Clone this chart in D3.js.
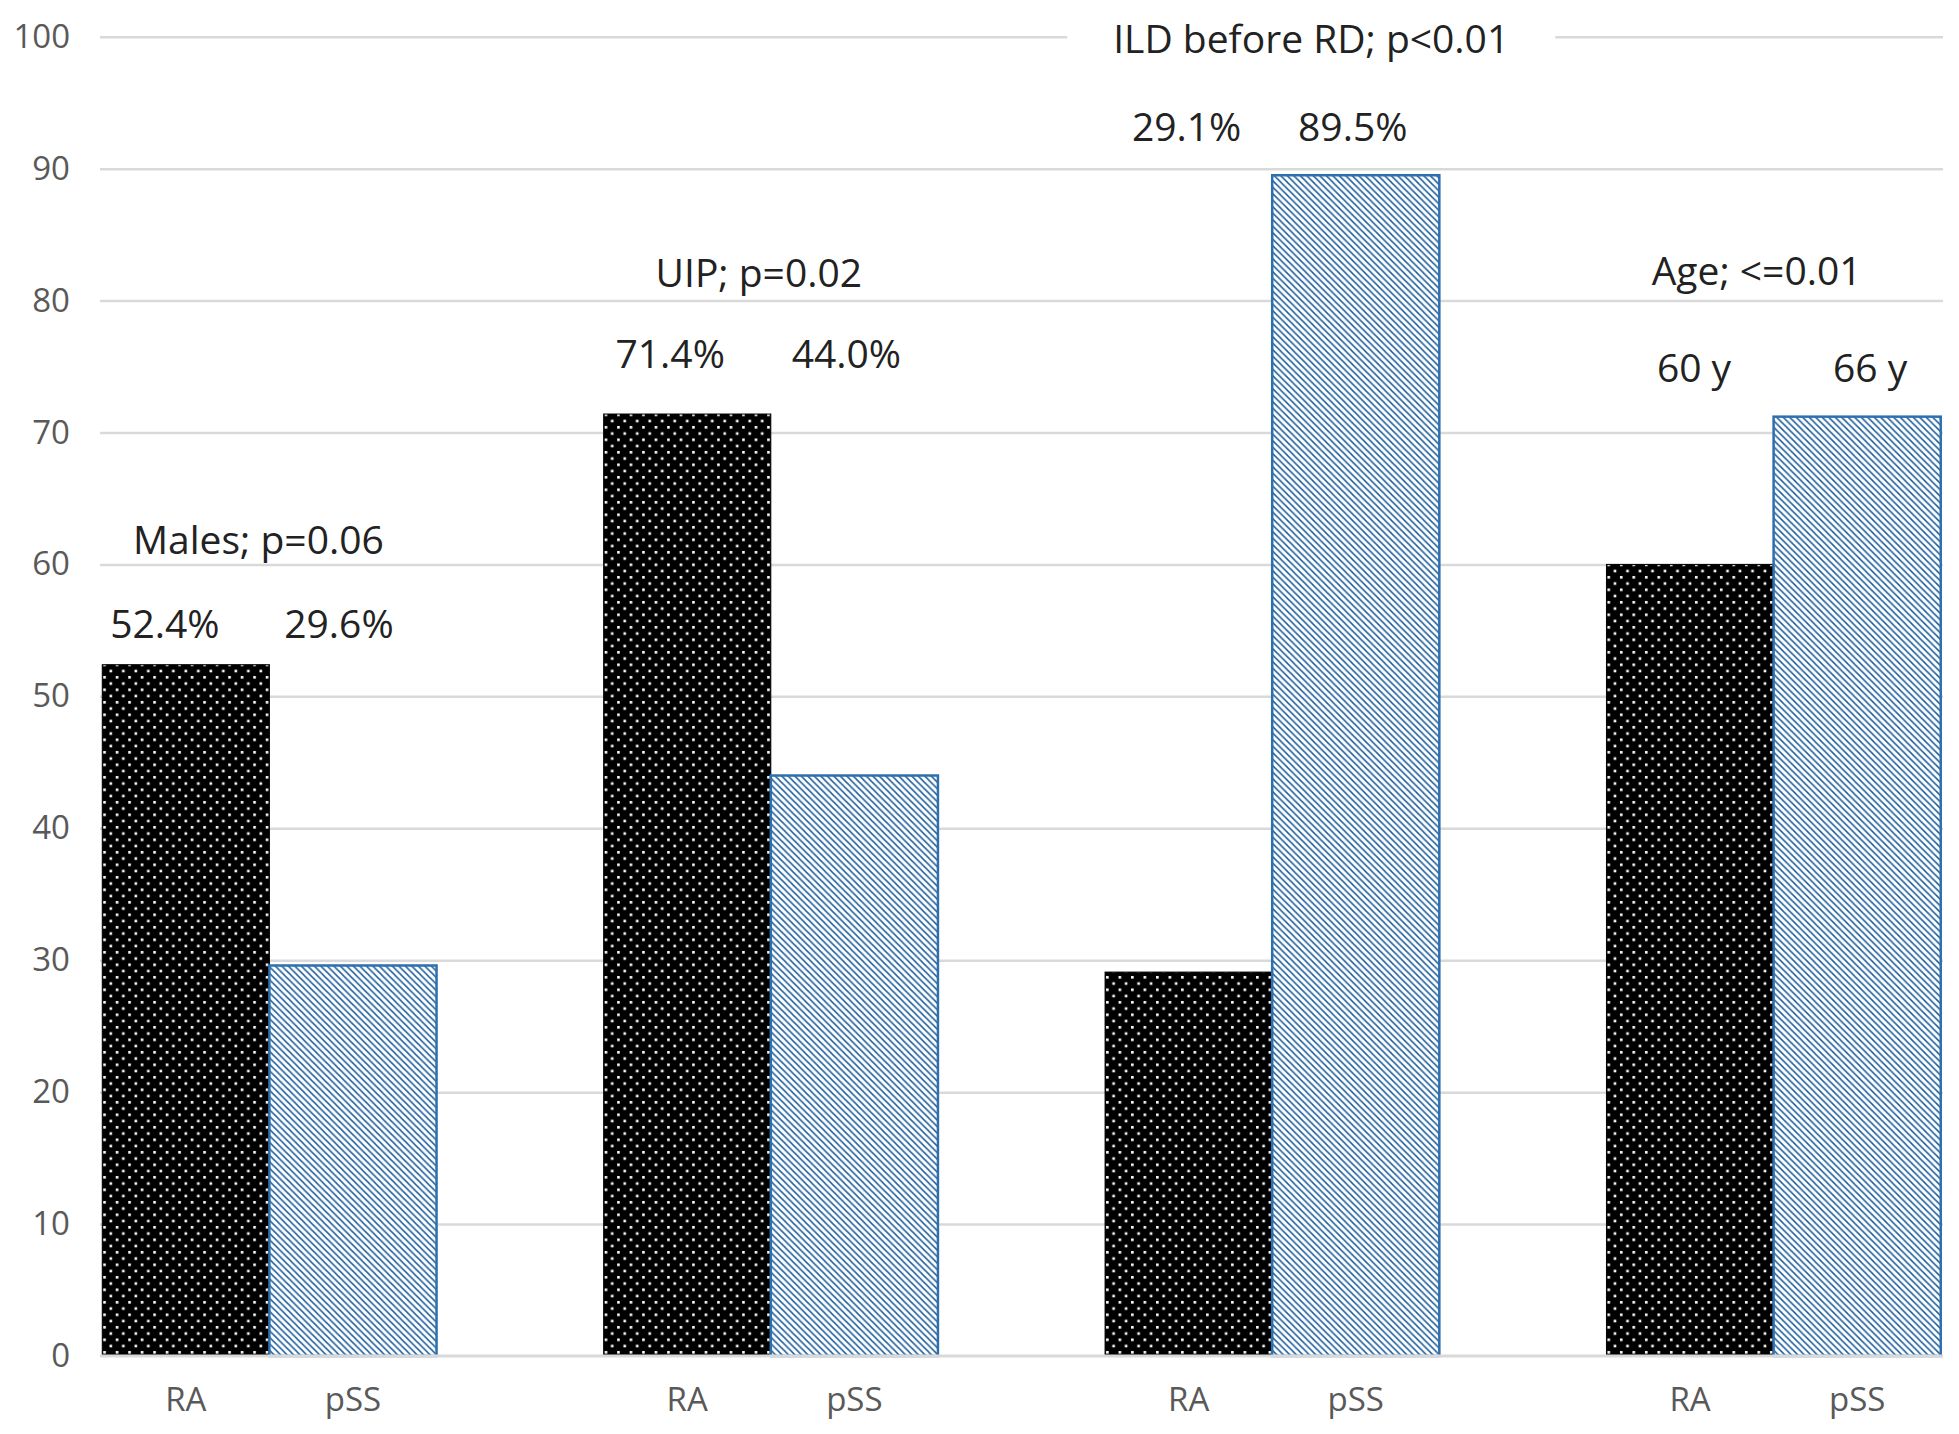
<!DOCTYPE html>
<html>
<head>
<meta charset="utf-8">
<script src="https://cdn.jsdelivr.net/npm/d3@7"></script>
<style>
  body { margin: 0; background: #fff; }
  .tick text { font-family: "Open Sans", sans-serif; }
</style>
</head>
<body>
<svg id="chart"></svg>
<script>
// chart data
var groups = ["Males; p=0.06", "UIP; p=0.02", "ILD before RD; p<0.01", "Age; <=0.01"];
var series = ["RA", "pSS"];
var raValues = [52.4, 71.4, 29.1, 60.0];
var pssValues = [29.6, 44.0, 89.5, 71.2];
var raLabels = ["52.4%", "71.4%", "29.1%", "60 y"];
var pssLabels = ["29.6%", "44.0%", "89.5%", "66 y"];
var yTicks = [0, 10, 20, 30, 40, 50, 60, 70, 80, 90, 100];

var screen = {width: 1959, height: 1434};
var plot = {left: 100, right: 1943, top: 36.7, bottom: 1356};

// hand placed text boxes in the original, nudged from scale positions
var nudge = {
    raDx: [-21, -17, -2, 4],
    pssDx: [-14, -8, -3, 13],
    labelDy: [-42, -62, -50, -50],
    titleDy: [-84, -81, -88, -97],
    titleDx: [-11, -12, 39, -17]
};

var svg = d3.select("#chart")
    .attr("width", screen.width)
    .attr("height", screen.height);

var defs = svg.append("defs");

var dots = defs.append("pattern")
    .attr("id", "dots")
    .attr("patternUnits", "userSpaceOnUse")
    .attr("width", 12.5)
    .attr("height", 12.5);
dots.append("rect").attr("width", 12.5).attr("height", 12.5).attr("fill", "#000");
dots.append("rect").attr("x", 1).attr("y", 1).attr("width", 2.6).attr("height", 2.6).attr("fill", "#fff");
dots.append("rect").attr("x", 7.25).attr("y", 7.25).attr("width", 2.6).attr("height", 2.6).attr("fill", "#fff");

var hatch = defs.append("pattern")
    .attr("id", "hatch")
    .attr("patternUnits", "userSpaceOnUse")
    .attr("width", 6.5)
    .attr("height", 6.5);
hatch.append("rect").attr("width", 6.5).attr("height", 6.5).attr("fill", "#fff");
hatch.append("path")
    .attr("d", "M-1,-1 L7.5,7.5 M-1,5.5 L1,7.5 M5.5,-1 L7.5,1")
    .attr("stroke", "#1f5f9c")
    .attr("stroke-width", 1.5);

var yScale = d3.scaleLinear()
    .domain([0, 100])
    .range([plot.bottom, plot.top]);

var x0 = d3.scaleBand()
    .domain(groups)
    .range([18.7, 2024.3])
    .paddingInner(1 / 3)
    .paddingOuter(1 / 6);

var x1 = d3.scaleBand()
    .domain(series)
    .range([0, x0.bandwidth()]);

// gridlines
var grid = svg.append("g")
    .attr("transform", "translate(" + plot.left + ",0)")
    .call(d3.axisLeft(yScale).tickValues(yTicks.slice(1)).tickSize(-(plot.right - plot.left)).tickFormat(""));
grid.select(".domain").remove();
grid.selectAll("line").attr("stroke", "#d9d9d9").attr("stroke-width", 2.5);

// y tick labels
var yAxis = svg.append("g")
    .attr("transform", "translate(" + plot.left + ",0)")
    .call(d3.axisLeft(yScale).tickValues(yTicks).tickSize(0).tickPadding(30));
yAxis.select(".domain").remove();
yAxis.selectAll("text")
    .attr("fill", "#595959")
    .style("font-size", "33px");

// bars
var rows = groups.map(function(g, i) {
    return {group: g, i: i, values: [
        {key: "RA", value: raValues[i], label: raLabels[i], dx: nudge.raDx[i]},
        {key: "pSS", value: pssValues[i], label: pssLabels[i], dx: nudge.pssDx[i]}
    ]};
});

var groupG = svg.append("g").selectAll("g")
    .data(rows)
    .enter()
    .append("g")
    .attr("transform", function(d) { return "translate(" + x0(d.group) + ",0)"; });

groupG.selectAll("rect")
    .data(function(d) { return d.values; })
    .enter()
    .append("rect")
    .attr("x", function(d) { return x1(d.key); })
    .attr("y", function(d) { return yScale(d.value); })
    .attr("width", x1.bandwidth())
    .attr("height", function(d) { return yScale(0) - yScale(d.value); })
    .attr("fill", function(d) { return d.key == "RA" ? "url(#dots)" : "url(#hatch)"; })
    .attr("stroke", function(d) { return d.key == "RA" ? "#000" : "#2e6fae"; })
    .attr("stroke-width", function(d) { return d.key == "RA" ? 1 : 2.5; });

// category axis line
svg.append("line")
    .attr("x1", plot.left)
    .attr("x2", plot.right)
    .attr("y1", yScale(0))
    .attr("y2", yScale(0))
    .attr("stroke", "#d9d9d9")
    .attr("stroke-width", 3);

// RA / pSS labels under each pair
groupG.each(function() {
    var ax = d3.select(this).append("g")
        .attr("transform", "translate(0," + yScale(0) + ")")
        .call(d3.axisBottom(x1).tickSize(0).tickPadding(32));
    ax.select(".domain").remove();
    ax.selectAll("text")
        .attr("fill", "#595959")
        .style("font-size", "33px");
});

// value labels and group titles
groupG.each(function(d) {
    var g = d3.select(this);
    var ly = yScale(d3.max(d.values, function(v) { return v.value; })) + nudge.labelDy[d.i];
    g.selectAll(".value")
        .data(d.values)
        .enter()
        .append("text")
        .classed("value", true)
        .text(function(v) { return v.label; })
        .attr("x", function(v) { return x1(v.key) + x1.bandwidth() / 2 + v.dx; })
        .attr("y", ly)
        .attr("text-anchor", "middle")
        .attr("dominant-baseline", "central")
        .attr("font-family", "Open Sans, sans-serif")
        .attr("font-size", 39)
        .attr("fill", "#222");

    var tx = x0.bandwidth() / 2 + nudge.titleDx[d.i];
    var ty = ly + nudge.titleDy[d.i];
    var backing = g.append("rect").attr("fill", "#fff");
    var title = g.append("text")
        .classed("title", true)
        .text(d.group)
        .attr("x", tx)
        .attr("y", ty)
        .attr("text-anchor", "middle")
        .attr("dominant-baseline", "central")
        .attr("font-family", "Open Sans, sans-serif")
        .attr("font-size", 39)
        .attr("fill", "#222");
    var box = title.node().getBBox();
    backing
        .attr("x", box.x - 46)
        .attr("y", ty - 20)
        .attr("width", box.width + 92)
        .attr("height", 40);
});
</script>
</body>
</html>
